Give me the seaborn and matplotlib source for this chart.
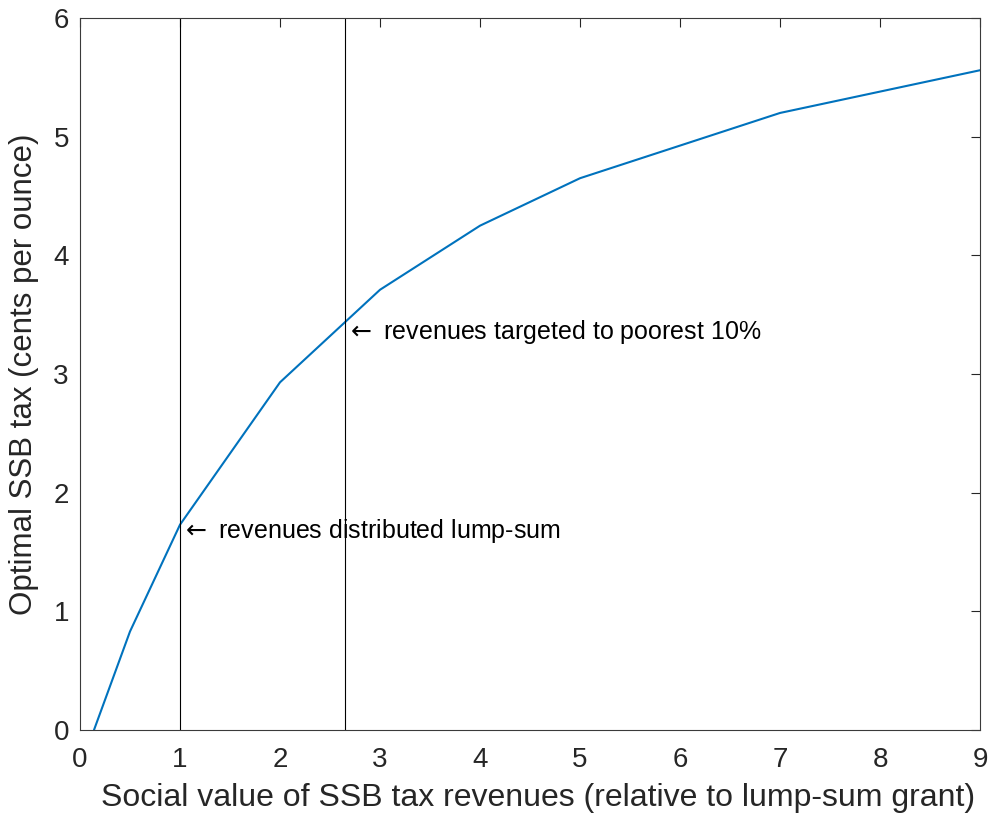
import matplotlib
matplotlib.use("Agg")
import matplotlib.pyplot as plt
import seaborn as sns
import pandas as pd

# Data
social_value = [0.14, 0.5, 1, 2, 3, 4, 5, 7, 9]
optimal_tax = [0.0, 0.83, 1.73, 2.93, 3.71, 4.25, 4.65, 5.20, 5.56]
vline_positions = [1.0, 2.65]
annotations = ["revenues distributed lump-sum", "revenues targeted to poorest 10%"]
annotation_y = [1.68, 3.35]
x_ticks = list(range(0, 10))
y_ticks = list(range(0, 7))

sns.set_theme(style="white")
plt.rcParams['font.family'] = ['Liberation Sans', 'DejaVu Sans']

fig = plt.figure(figsize=(9.95, 8.19), dpi=100)
ax = fig.add_axes([0.0804, 0.1087, 0.9046, 0.8693])

df = pd.DataFrame({"x": social_value, "y": optimal_tax})
sns.lineplot(data=df, x="x", y="y", ax=ax, color="#0072BD", linewidth=1.5)

for xv in vline_positions:
    ax.axvline(xv, color="black", linewidth=0.8)

for xv, yv, txt in zip(vline_positions, annotation_y, annotations):
    ax.text(xv + 0.01, yv, r"$\leftarrow$ " + txt, fontsize=18, va="center", ha="left",
            color="black")

ax.set_xlim(0, 9)
ax.set_ylim(0, 6)
ax.set_xticks(x_ticks)
ax.set_yticks(y_ticks)
ax.set_xlabel("Social value of SSB tax revenues (relative to lump-sum grant)",
              fontsize=23, color="#262626")
ax.xaxis.set_label_coords(0.509, -0.074)
ax.xaxis.label.set_va("top")
ax.set_ylabel("Optimal SSB tax (cents per ounce)", fontsize=22.5, color="#262626", labelpad=10)
ax.tick_params(direction="in", length=6.7, width=0.8, top=True, right=True,
               labelsize=20, colors="#262626")
ax.tick_params(axis="x", pad=12)
ax.tick_params(axis="y", pad=8)
for s in ax.spines.values():
    s.set_visible(True)
    s.set_color("#3a3a3a")
    s.set_linewidth(0.8)

fig.savefig("out.png", dpi=100)
